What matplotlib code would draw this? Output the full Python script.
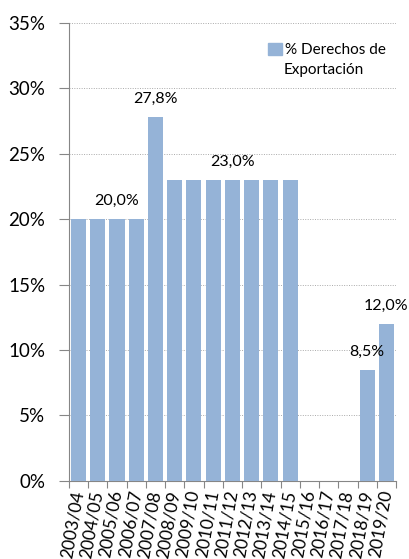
import matplotlib
matplotlib.use('Agg')
import matplotlib.pyplot as plt
from matplotlib.patches import Patch

campanas = ['2003/04', '2004/05', '2005/06', '2006/07', '2007/08', '2008/09',
            '2009/10', '2010/11', '2011/12', '2012/13', '2013/14', '2014/15',
            '2015/16', '2016/17', '2017/18', '2018/19', '2019/20']
derechos = [20.0, 20.0, 20.0, 20.0, 27.8, 23.0, 23.0, 23.0, 23.0, 23.0, 23.0,
            23.0, 0, 0, 0, 8.5, 12.0]
etiquetas = {2: '20,0%', 4: '27,8%', 8: '23,0%', 15: '8,5%', 16: '12,0%'}

plt.rcParams['font.family'] = ['Lato', 'DejaVu Sans']
color_barra = '#95B3D7'
gris = '#868686'

fig = plt.figure(figsize=(4.1, 5.59), dpi=100)
ax = fig.add_axes([0.168, 0.14, 0.798, 0.819])

x = list(range(len(campanas)))
ax.bar(x, derechos, width=0.78, color=color_barra, zorder=3)

for i, txt in etiquetas.items():
    ax.annotate(txt, (i, derechos[i]), xytext=(0, 8), textcoords='offset points',
                ha='center', va='bottom', fontsize=11.5)

ax.set_ylim(0, 35)
ax.set_xlim(-0.5, len(campanas) - 0.5)
ax.set_yticks(range(0, 36, 5))
ax.set_yticklabels([f'{v}%' for v in range(0, 36, 5)], fontsize=13.5)
ax.yaxis.grid(True, linestyle=(0, (1, 1.5)), color='#aaaaaa', linewidth=0.7, zorder=0)

ax.set_xticks([i - 0.5 for i in range(len(campanas) + 1)])
ax.set_xticklabels([])
ax.set_xticks(x, minor=True)
ax.set_xticklabels(campanas, minor=True, rotation=80, fontsize=12.5,
                   ha='right', va='center', rotation_mode='anchor')
ax.tick_params(axis='x', which='minor', length=0, pad=7)
ax.tick_params(axis='x', which='major', length=5, color=gris)
ax.tick_params(axis='y', length=7, color=gris, pad=10)

for s in ['top', 'right']:
    ax.spines[s].set_visible(False)
for s in ['left', 'bottom']:
    ax.spines[s].set_color(gris)

ax.legend(handles=[Patch(color=color_barra)], labels=['% Derechos de'],
          loc='upper left', bbox_to_anchor=(0.59, 0.97), frameon=False,
          fontsize=11, handlelength=0.9, handleheight=0.9, handletextpad=0.2,
          borderaxespad=0)
ax.text(0.655, 0.912, 'Exportación', transform=ax.transAxes, fontsize=11,
        ha='left', va='top')

fig.savefig('out.png', dpi=100)
